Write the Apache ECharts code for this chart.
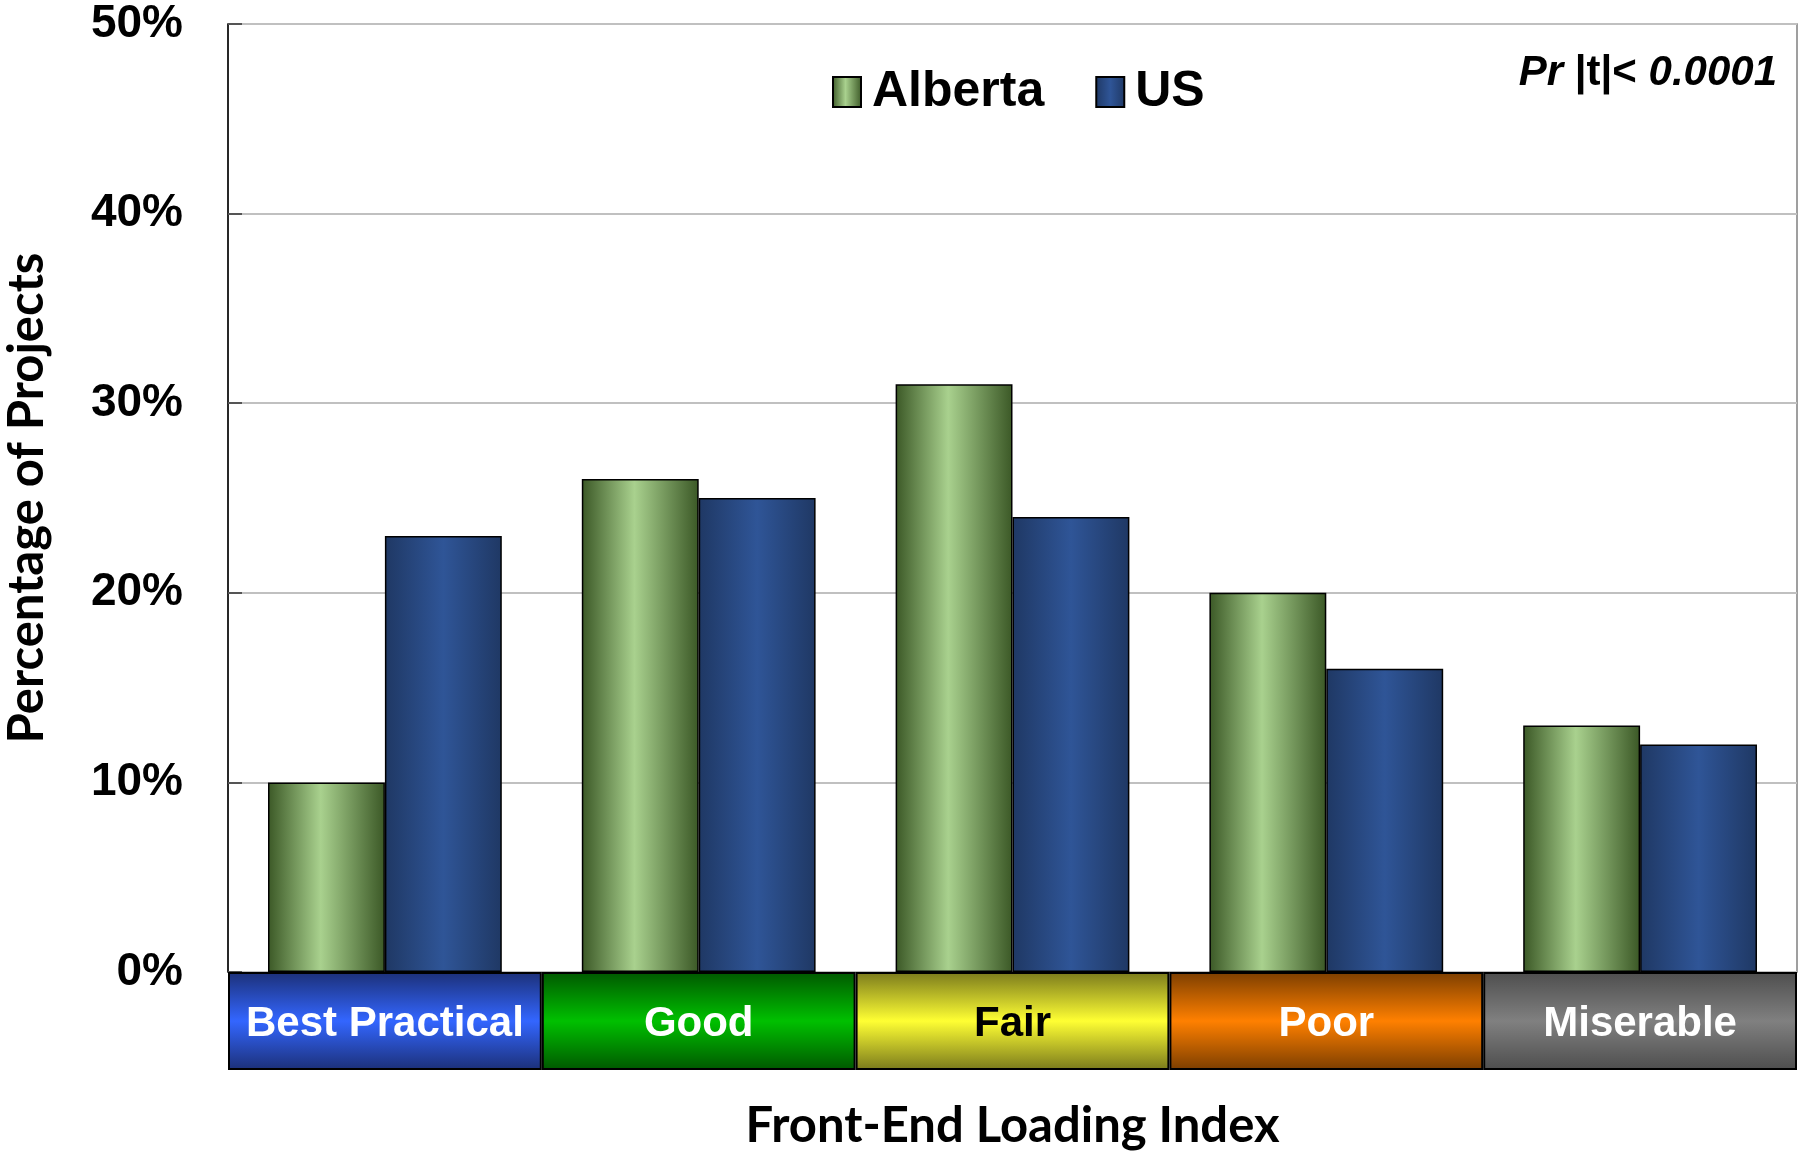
<!DOCTYPE html>
<html>
<head>
<meta charset="UTF-8">
<title>Front-End Loading Index</title>
<script src="https://cdn.jsdelivr.net/npm/echarts@6/dist/echarts.min.js"></script>
<style>
  body { margin: 0; background: #fff; }
  #chart { width: 1799px; height: 1153px; }
</style>
</head>
<body>
<div id="chart"></div>
<script>
// 数据
var categories = ['Best Practical', 'Good', 'Fair', 'Poor', 'Miserable'];
var alberta = [10, 26, 31, 20, 13];
var us = [23, 25, 24, 16, 12];
var seriesNames = ['Alberta', 'US'];
var yTicks = { min: 0, max: 50, step: 10 };

var G = echarts.graphic.LinearGradient;
var ARIAL = '"Liberation Sans", Arial, sans-serif';
var CALIBRI = 'Lato, "Open Sans", sans-serif';

// 柱子的横向渐变
var greenFill = new G(0, 0, 1, 0, [
  { offset: 0, color: '#3b5826' },
  { offset: 0.45, color: '#a9d18e' },
  { offset: 1, color: '#3b5826' }
]);
var blueFill = new G(0, 0, 1, 0, [
  { offset: 0, color: '#1f3864' },
  { offset: 0.5, color: '#2f5597' },
  { offset: 1, color: '#1f3864' }
]);

// 底部等级色带（上下深、中间亮）
function band(dark, light) {
  return new G(0, 0, 0, 1, [
    { offset: 0, color: dark },
    { offset: 0.5, color: light },
    { offset: 1, color: dark }
  ]);
}
var bandFills = [
  band('#1c3078', '#3366ff'),
  band('#005800', '#00c000'),
  band('#7a7a1c', '#ffff33'),
  band('#7c3e00', '#ff8000'),
  band('#4e4e4e', '#808080')
];
var bandText = ['#fff', '#fff', '#000', '#fff', '#fff'];

var chart = echarts.init(document.getElementById('chart'));

var bandLabel = {
  show: true, position: 'inside', formatter: '{b}', offset: [0, 3],
  fontFamily: ARIAL, fontWeight: 'bold', fontSize: 42
};

var option = {
  animation: false,
  grid: [
    {
      left: 228, right: 2, top: 24, bottom: 181, outerBoundsMode: 'none',
      show: true, borderColor: '#808080', borderWidth: 1.5
    },
    { left: 228, right: 2, top: 972, height: 98, outerBoundsMode: 'none' }
  ],
  legend: {
    data: seriesNames,
    left: 827,
    top: 62,
    icon: 'rect',
    itemWidth: 28,
    itemHeight: 30,
    itemGap: 51,
    textStyle: {
      fontFamily: ARIAL, fontWeight: 'bold', fontSize: 50, color: '#000',
      padding: [0, 0, 0, 6]
    },
    itemStyle: { borderColor: '#000', borderWidth: 2 }
  },
  xAxis: [
    {
      type: 'category', gridIndex: 0, data: categories,
      axisLine: { show: false }, axisTick: { show: false }, axisLabel: { show: false }
    },
    {
      type: 'category', gridIndex: 1, data: categories,
      axisLine: { show: false }, axisTick: { show: false }, axisLabel: { show: false },
      name: 'Front-End Loading Index',
      nameLocation: 'middle',
      nameGap: 32,
      nameTextStyle: { fontFamily: CALIBRI, fontWeight: 'bold', fontSize: 49, color: '#000' }
    }
  ],
  yAxis: [
    {
      type: 'value', gridIndex: 0,
      min: yTicks.min, max: yTicks.max, interval: yTicks.step,
      axisLine: { show: true, lineStyle: { color: '#000', width: 1.5 } },
      axisTick: { show: true, inside: true, length: 14, lineStyle: { color: '#555', width: 2 } },
      splitLine: { lineStyle: { color: '#c0c0c0', width: 2 } },
      axisLabel: {
        formatter: '{value}%', margin: 45,
        fontFamily: ARIAL, fontWeight: 'bold', fontSize: 46, color: '#000'
      },
      name: 'Percentage of Projects',
      nameLocation: 'middle',
      nameGap: 176,
      nameTextStyle: { fontFamily: CALIBRI, fontWeight: 'bold', fontSize: 49, color: '#000' }
    },
    {
      type: 'value', gridIndex: 1, min: 0, max: 1, show: false
    }
  ],
  series: [
    {
      name: seriesNames[0], type: 'bar', xAxisIndex: 0, yAxisIndex: 0,
      data: alberta, barGap: '0%', barCategoryGap: '25.5%',
      itemStyle: { color: greenFill, borderColor: '#000', borderWidth: 1.5 }
    },
    {
      name: seriesNames[1], type: 'bar', xAxisIndex: 0, yAxisIndex: 0,
      data: us, barGap: '0%', barCategoryGap: '25.5%',
      itemStyle: { color: blueFill, borderColor: '#000', borderWidth: 1.5 }
    },
    {
      name: 'band', type: 'bar', xAxisIndex: 1, yAxisIndex: 1,
      barCategoryGap: 0,
      data: categories.map(function (c, i) {
        return {
          value: 1,
          itemStyle: { color: bandFills[i] },
          label: Object.assign({}, bandLabel, { color: bandText[i] })
        };
      }),
      itemStyle: { borderColor: '#000', borderWidth: 2 },
      label: bandLabel,
      silent: true
    }
  ],
  graphic: [
    {
      type: 'text', right: 22, top: 52,
      style: {
        text: '{i|Pr }{n||t|< }{i|0.0001}',
        rich: {
          i: { fontFamily: ARIAL, fontWeight: 'bold', fontStyle: 'italic', fontSize: 42, fill: '#000' },
          n: { fontFamily: ARIAL, fontWeight: 'bold', fontSize: 42, fill: '#000' }
        }
      }
    }
  ]
};

chart.setOption(option);
</script>
</body>
</html>
